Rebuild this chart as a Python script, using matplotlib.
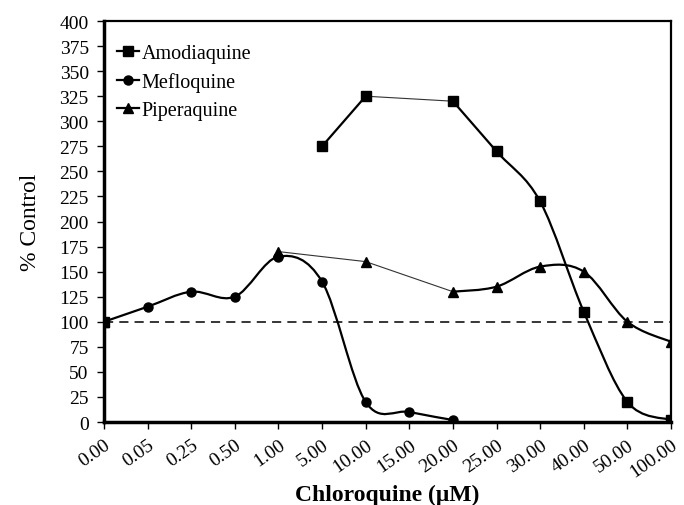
import numpy as np
import matplotlib
matplotlib.use('Agg')
import matplotlib.pyplot as plt
from matplotlib.path import Path
from matplotlib.patches import PathPatch
from matplotlib.lines import Line2D

# Plot parameters
plt.rcParams.update({
    'font.family': 'serif',
    'font.serif': ['Liberation Serif', 'DejaVu Serif'],
    'font.size': 14,
})

# Data (chloroquine concentration categories, % control)
conc_labels = ['0.00', '0.05', '0.25', '0.50', '1.00', '5.00', '10.00',
               '15.00', '20.00', '25.00', '30.00', '40.00', '50.00', '100.00']
amodiaquine = [100, None, None, None, None, 275, 325, None, 320, 270, 220, 110, 20, 2]
mefloquine = [100, 115, 130, 125, 165, 140, 20, 10, 2, None, None, None, None, None]
piperaquine = [100, None, None, None, 170, None, 160, None, 130, 135, 155, 150, 100, 80]
control_level = 100


def smooth_path(x, y):
    """Excel-style smoothed line as a chain of cubic Bezier pieces."""
    pts = np.column_stack([x, y]).astype(float)
    n = len(pts)
    verts, codes = [pts[0]], [Path.MOVETO]
    for i in range(n - 1):
        p0, p1 = pts[max(i - 1, 0)], pts[i]
        p2, p3 = pts[i + 1], pts[min(i + 2, n - 1)]
        verts += [p1 + (p2 - p0) / 6, p2 - (p3 - p1) / 6, p2]
        codes += [Path.CURVE4] * 3
    return Path(verts, codes)


def draw_series(ax, values, marker, ms, z):
    idx = [i for i, v in enumerate(values) if v is not None]
    runs, cur = [], [idx[0]]
    for a, b in zip(idx[:-1], idx[1:]):
        if b - a == 1:
            cur.append(b)
        else:
            runs.append(cur)
            if b - a == 2:  # one missing point -> thin connector
                ax.plot([a, b], [values[a], values[b]], color='#333333', lw=0.8, zorder=z)
            cur = [b]
    runs.append(cur)
    for r in runs:
        if len(r) > 1:
            ax.add_patch(PathPatch(smooth_path(r, [values[i] for i in r]),
                                   fill=False, edgecolor='black', lw=1.6, zorder=z))
    ax.plot(idx, [values[i] for i in idx], linestyle='none', marker=marker,
            ms=ms, color='black', zorder=z + 0.5)


fig = plt.figure(figsize=(6.84, 5.06), dpi=100)
ax = fig.add_axes([0.152, 0.164, 0.829, 0.7925])

x = np.arange(len(conc_labels))
ax.axhline(control_level, color='black', lw=1.1, ls=(0, (6, 4)), zorder=1)

draw_series(ax, mefloquine, 'o', 6.5, 2)
draw_series(ax, piperaquine, '^', 7.5, 3)
draw_series(ax, amodiaquine, 's', 6.5, 4)

ax.set_xlim(0, len(conc_labels) - 1)
ax.set_ylim(0, 400)
ax.set_yticks(np.arange(0, 401, 25))
ax.set_xticks(x)
ax.set_xticklabels(conc_labels, rotation=35, ha='right', rotation_mode='anchor')
ax.tick_params(axis='both', direction='out', length=5, width=1, labelsize=14)
ax.tick_params(axis='y', pad=6)
ax.tick_params(axis='x', pad=5)

for side in ['left', 'bottom']:
    ax.spines[side].set_linewidth(2.5)
for side in ['top', 'right']:
    ax.spines[side].set_linewidth(1.6)

ax.set_xlabel('Chloroquine (\u03bcM)', fontsize=17, fontweight='bold', labelpad=2)
ax.set_ylabel('% Control', fontsize=17, labelpad=13)

handles = [Line2D([], [], color='black', lw=1.6, marker='s', ms=6.5),
           Line2D([], [], color='black', lw=1.6, marker='o', ms=6.5),
           Line2D([], [], color='black', lw=1.6, marker='^', ms=7.5)]
ax.legend(handles, ['Amodiaquine', 'Mefloquine', 'Piperaquine'], loc='upper left',
          bbox_to_anchor=(-0.005, 0.983), frameon=False, fontsize=14.5,
          handlelength=1.1, handletextpad=0.1, labelspacing=0.45,
          borderaxespad=0.6, borderpad=0.2)

plt.savefig('out.png', dpi=100)
